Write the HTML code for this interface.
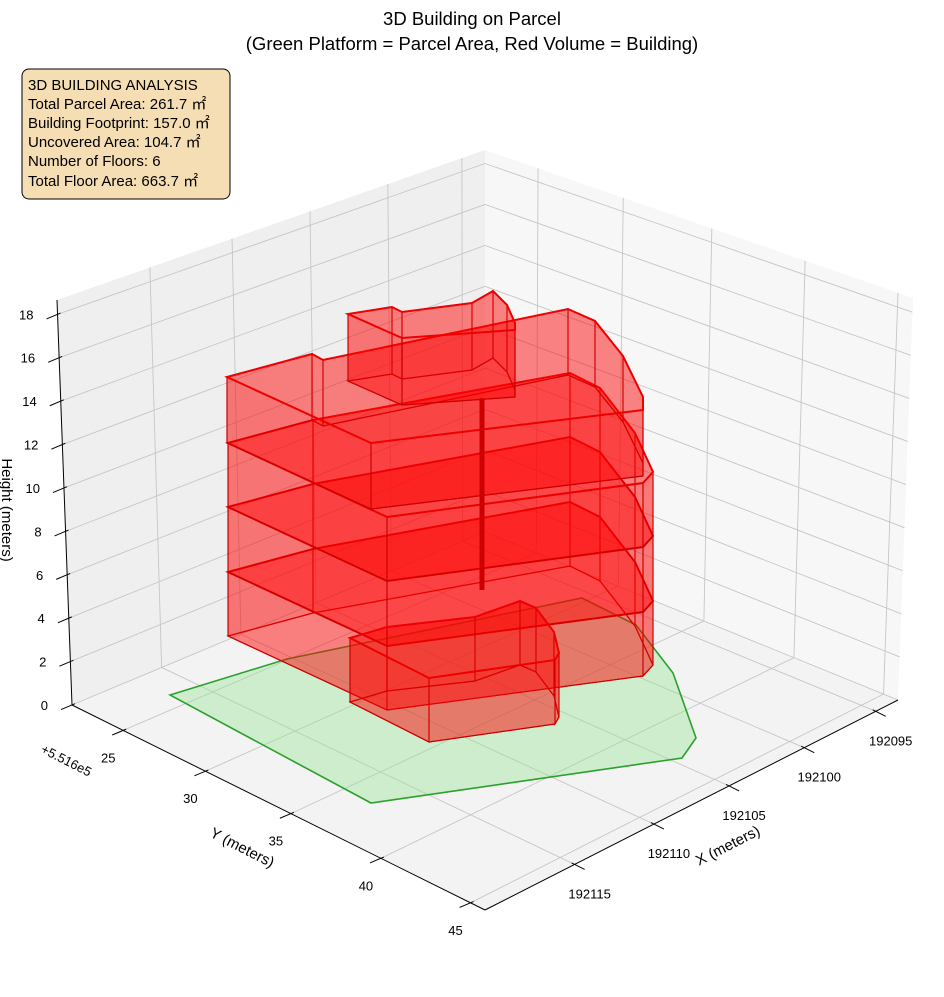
<!DOCTYPE html>
<html><head><meta charset="utf-8">
<style>
html,body{margin:0;padding:0;background:#fff;}
svg text{font-family:"Liberation Sans","Noto Sans CJK JP",sans-serif;fill:#000;}
</style></head>
<body>
<svg id="s" width="944" height="992" viewBox="0 0 944 992" xmlns="http://www.w3.org/2000/svg">
<text x="472" y="25" font-size="18.5" text-anchor="middle">3D Building on Parcel</text>
<text x="472" y="50" font-size="18.5" text-anchor="middle">(Green Platform = Parcel Area, Red Volume = Building)</text>
<g id="g"></g>
<rect x="22" y="69" width="208" height="130" rx="7" fill="#f5deb3" stroke="#000" stroke-width="1"/>
<text font-size="15"><tspan x="28" y="90">3D BUILDING ANALYSIS</tspan><tspan x="28" y="109">Total Parcel Area: 261.7 ㎡</tspan><tspan x="28" y="128">Building Footprint: 157.0 ㎡</tspan><tspan x="28" y="147">Uncovered Area: 104.7 ㎡</tspan><tspan x="28" y="166">Number of Floors: 6</tspan><tspan x="28" y="186">Total Floor Area: 663.7 ㎡</tspan></text>
<text font-size="15" transform="translate(240,852) rotate(27)" text-anchor="middle">Y (meters)</text>
<text font-size="15" transform="translate(730,850) rotate(-27)" text-anchor="middle">X (meters)</text>
<text font-size="15" transform="translate(2,510) rotate(90)" text-anchor="middle">Height (meters)</text>
<text font-size="13" transform="translate(40,752) rotate(27)">+5.516e5</text>
</svg>
<script>
var g=document.getElementById('g');var NS='http://www.w3.org/2000/svg';
function el(t,a){var e=document.createElementNS(NS,t);for(var k in a)e.setAttribute(k,a[k]);g.appendChild(e);return e;}
function lerp(a,b,t){return[a[0]+(b[0]-a[0])*t,a[1]+(b[1]-a[1])*t];}
function pts(a){return a.map(function(p){return p[0].toFixed(1)+','+p[1].toFixed(1)}).join(' ');}
var L=[72,705],B=[485,532],F=[485,910],R=[898,700],TL=[57,300],TB=[485,150],TR=[913,298];
el('polygon',{points:pts([L,B,TB,TL]),fill:'#efefef'});
el('polygon',{points:pts([B,R,TR,TB]),fill:'#f7f7f7'});
el('polygon',{points:pts([L,B,R,F]),fill:'#f3f3f3'});
var gs={stroke:'#c6c6c6','stroke-width':0.9,fill:'none'};
function line(a,b,st){var o={x1:a[0],y1:a[1],x2:b[0],y2:b[1]};for(var k in st)o[k]=st[k];return el('line',o);}
var ut=[0.217,0.409,0.591,0.773,0.946];
var vt=[0.124,0.323,0.53,0.748,0.965];
var zs=[0,2,4,6,8,10,12,14,16,18];
ut.forEach(function(u){line(lerp(L,B,u),lerp(TL,TB,u),gs);line(lerp(L,B,u),lerp(F,R,u),gs);});
vt.forEach(function(v){line(lerp(B,R,v),lerp(TB,TR,v),gs);line(lerp(L,F,v),lerp(B,R,v),gs);});
zs.forEach(function(z){var f=z/18.66;line(lerp(L,TL,f),lerp(B,TB,f),gs);line(lerp(B,TB,f),lerp(R,TR,f),gs);});
var ax={stroke:'#000','stroke-width':1};
line(L,TL,ax);line(L,F,ax);line(F,R,ax);
zs.forEach(function(z){var p=lerp(L,TL,z/18.66);line([p[0]+3,p[1]-1.3],[p[0]-11,p[1]+4.6],ax);
 var t=el('text',{x:p[0]-24,y:p[1]+5,'font-size':13,'text-anchor':'end'});t.textContent=z;});
var yl=[25,30,35,40,45];
vt.forEach(function(v,i){var p=lerp(L,F,v);line([p[0]+3,p[1]-1.3],[p[0]-11,p[1]+4.6],ax);
 var t=el('text',{x:p[0]-15,y:p[1]+32,'font-size':13,'text-anchor':'middle'});t.textContent=yl[i];});
var xl=[192115,192110,192105,192100,192095];
ut.forEach(function(u,i){var p=lerp(F,R,u);line([p[0]-3,p[1]-1.5],[p[0]+10,p[1]+5],ax);
 var t=el('text',{x:p[0]+15,y:p[1]+34,'font-size':13,'text-anchor':'middle'});t.textContent=xl[i];});
el('polygon',{points:pts([[170,695],[287,659],[582,598],[636,625],[673,673],[696,738],[682,758],[371,803]]),fill:'rgba(144,230,144,0.38)',stroke:'#2ca02c','stroke-width':1.6});
function prism(top,h,thick){
 var bot=top.map(function(p){return[p[0],p[1]+h]});
 el('polygon',{points:pts(bot),fill:'rgba(255,0,0,0.25)',stroke:'#c80000','stroke-width':1.2});
 for(var i=0;i<top.length;i++){var j=(i+1)%top.length;
  el('polygon',{points:pts([top[i],top[j],bot[j],bot[i]]),fill:'rgba(255,0,0,0.3)',stroke:'#cc0000','stroke-width':1.1});}
 el('polygon',{points:pts(top),fill:'rgba(255,0,0,0.25)',stroke:'#e00','stroke-width':thick||2});
}
var foot=[[0,0],[85,-23],[342,-70],[372,-55],[407,-10],[425,29],[415,40],[159,74]];
function mid(Y){return foot.map(function(p){return[228+p[0],Y+p[1]]});}
prism(mid(572),64,2);
prism(mid(507),65,2);
prism(mid(443),64,2);
prism([[227,377],[312,354],[323,360],[568,309],[595,321],[623,356],[643,397],[643,410],[371,443]],66,2);
line([482,398],[482,590],{stroke:'#c00','stroke-width':5});
prism([[348,314],[392,307],[402,312],[472,303],[493,291],[507,305],[515,323],[515,330],[402,338]],67,2);
prism([[350,638],[387,627],[475,617],[520,601],[536,608],[554,632],[559,653],[555,660],[429,678]],64,2);
</script>
</body></html>
